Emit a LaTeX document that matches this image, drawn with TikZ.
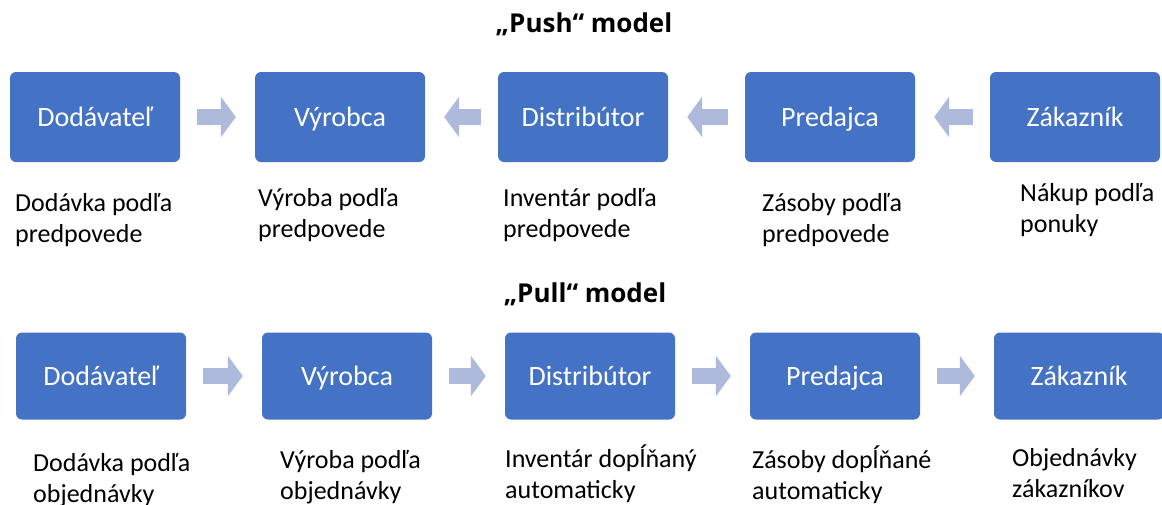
\documentclass[tikz,border=0pt]{standalone}
\usepackage{fontspec}
\setmainfont{Carlito}
\newfontfamily\headfont{Open Sans}
\usetikzlibrary{arrows.meta, positioning}
\definecolor{boxblue}{RGB}{68,114,196}
\definecolor{arrowblue}{RGB}{174,186,219}

\begin{document}
\begin{tikzpicture}[x=1pt,y=-1pt,
  actor/.style={fill=boxblue, rounded corners=6pt, minimum width=170pt,
    minimum height=90pt, inner sep=0pt, text height=18pt, text depth=0pt,
    text=white, font=\fontsize{28}{33}\selectfont},
  note/.style={anchor=north west, align=left, inner sep=0pt,
    font=\fontsize{26}{31}\selectfont},
  flow/.style={draw=arrowblue, line width=16pt, shorten <=17pt, shorten >=19pt,
    -{Triangle[width=40pt,length=15pt]}},
  heading/.style={anchor=base, font=\headfont\bfseries\fontsize{26}{30}\selectfont}]
  \useasboundingbox (0,0) rectangle (1162,504);

  % push model
  \node[heading] (push) at (584,32) {„Push“ model};

  \node[actor] (dod1) at (95,117)   {Dodávateľ};
  \node[actor] (vyr1) at (340,117)  {Výrobca};
  \node[actor] (dis1) at (583,117)  {Distribútor};
  \node[actor] (pre1) at (830,117)  {Predajca};
  \node[actor] (zak1) at (1075,117) {Zákazník};

  \node[note] (ndod1) at (15,189.5)   {\strut Dodávka podľa\\predpovede};
  \node[note] (nvyr1) at (258,184.5)  {\strut Výroba podľa\\predpovede};
  \node[note] (ndis1) at (503,184.5)  {\strut Inventár podľa\\predpovede};
  \node[note] (npre1) at (762,189.5)  {\strut Zásoby podľa\\predpovede};
  \node[note] (nzak1) at (1020,179.5) {\strut Nákup podľa\\ponuky};

  \draw[flow] (dod1) -- (vyr1);
  \draw[flow] (dis1) -- (vyr1);
  \draw[flow] (pre1) -- (dis1);
  \draw[flow] (zak1) -- (pre1);

  % pull model
  \node[heading] (pull) at (585,302) {„Pull“ model};

  \node[actor, minimum height=87pt] (dod2) at (101,376)  {Dodávateľ};
  \node[actor, minimum height=87pt] (vyr2) at (347,376)  {Výrobca};
  \node[actor, minimum height=87pt] (dis2) at (590,376)  {Distribútor};
  \node[actor, minimum height=87pt] (pre2) at (835,376)  {Predajca};
  \node[actor, minimum height=87pt] (zak2) at (1079,376) {Zákazník};

  \node[note] (ndod2) at (33,449.5)   {\strut Dodávka podľa\\objednávky};
  \node[note] (nvyr2) at (280,446.5)  {\strut Výroba podľa\\objednávky};
  \node[note] (ndis2) at (505,444.5)  {\strut Inventár dopĺňaný\\automaticky};
  \node[note] (npre2) at (752,445.5)  {\strut Zásoby dopĺňané\\automaticky};
  \node[note] (nzak2) at (1012,444.5) {\strut Objednávky\\zákazníkov};

  \draw[flow] (dod2) -- (vyr2);
  \draw[flow] (vyr2) -- (dis2);
  \draw[flow] (dis2) -- (pre2);
  \draw[flow] (pre2) -- (zak2);
\end{tikzpicture}
\end{document}
